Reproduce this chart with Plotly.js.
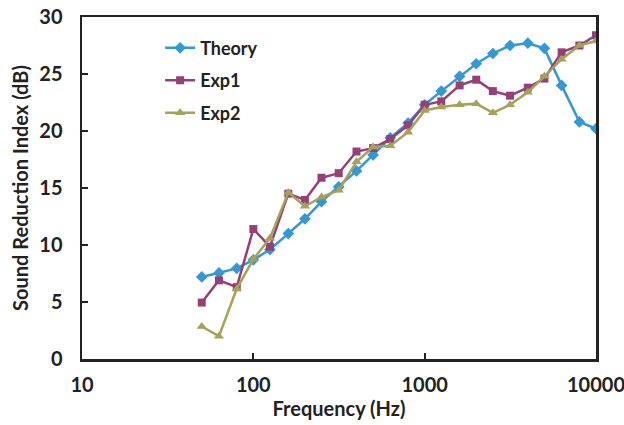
<!DOCTYPE html>
<html>
<head>
<meta charset="utf-8">
<script src="https://cdn.plot.ly/plotly-3.0.1.min.js"></script>
<style>html,body{margin:0;padding:0;background:#fff}#chart{width:624px;height:425px}</style>
</head>
<body>
<div id="chart"></div>
<script>
const frequency = [50, 63, 80, 100, 125, 160, 200, 250, 315, 400, 500, 630, 800, 1000, 1250, 1600, 2000, 2500, 3150, 4000, 5000, 6300, 8000, 10000];
const theory = [7.2, 7.55, 7.95, 8.7, 9.6, 11.0, 12.3, 13.8, 15.1, 16.5, 17.9, 19.4, 20.7, 22.3, 23.5, 24.8, 25.9, 26.8, 27.5, 27.7, 27.25, 24.0, 20.8, 20.2];
const exp1 = [4.95, 6.9, 6.3, 11.4, 9.85, 14.5, 13.95, 15.9, 16.3, 18.2, 18.5, 19.3, 20.5, 22.3, 22.6, 24.0, 24.5, 23.5, 23.1, 23.8, 24.6, 26.9, 27.5, 28.4];
const exp2 = [2.85, 2.0, 6.15, 8.75, 10.6, 14.6, 13.4, 14.2, 14.8, 17.3, 18.6, 18.7, 19.9, 21.8, 22.1, 22.3, 22.4, 21.6, 22.3, 23.4, 24.8, 26.3, 27.5, 27.9];
const xTickVals = [10, 100, 1000, 10000];
const xTickText = ["10", "100", "1000", "10000"];
const yTickVals = [0, 5, 10, 15, 20, 25, 30];

const FONT = "Lato, 'Open Sans', sans-serif";
const traces = [
  {x: frequency, y: theory, name: "Theory", legendgroup: "a", mode: "lines+markers",
   line: {color: "#3398D6", width: 2.5}, marker: {symbol: "diamond", size: 9, color: "#3398D6"}},
  {x: frequency, y: exp1, name: "Exp1", legendgroup: "b", mode: "lines+markers",
   line: {color: "#944177", width: 2.5}, marker: {symbol: "square", size: 8, color: "#944177"}},
  {x: frequency, y: exp2, name: "Exp2", legendgroup: "c", mode: "lines+markers",
   line: {color: "#A5A25A", width: 2.5}, marker: {symbol: "triangle-up", size: 9, color: "#A5A25A"}}
];
const layout = {
  width: 624, height: 425,
  margin: {l: 82, r: 28, t: 17, b: 66},
  paper_bgcolor: "#fff", plot_bgcolor: "#fff",
  font: {family: FONT, color: "#222", size: 17},
  showlegend: true,
  legend: {x: 0.152, y: 0.963, xanchor: "left", yanchor: "top", traceorder: "grouped",
           tracegroupgap: 6, font: {family: FONT, size: 18, color: "#222", weight: "bold"},
           bgcolor: "rgba(0,0,0,0)"},
  xaxis: {type: "log", range: [1, 4], tickvals: xTickVals, ticktext: xTickText,
          showgrid: false, zeroline: false, showline: true, linecolor: "#222", linewidth: 2.5,
          mirror: true, ticks: "inside", ticklen: 6, tickwidth: 2, tickcolor: "#222",
          ticklabelstandoff: 6, ticklabeloverflow: "allow",
          tickfont: {family: FONT, size: 20, color: "#222", weight: "bold"},
          title: {text: "Frequency (Hz)", font: {family: FONT, size: 20, color: "#222", weight: "bold"}, standoff: 4}},
  yaxis: {range: [0, 30], tickvals: yTickVals, showgrid: false, zeroline: false,
          showline: true, linecolor: "#222", linewidth: 2.5, mirror: true,
          ticks: "inside", ticklen: 6, tickwidth: 2, tickcolor: "#222",
          ticklabelstandoff: 13, ticklabeloverflow: "allow",
          tickfont: {family: FONT, size: 20, color: "#222", weight: "bold"},
          title: {text: "Sound Reduction Index (dB)", font: {family: FONT, size: 20, color: "#222", weight: "bold"}, standoff: 6}}
};
Plotly.newPlot("chart", traces, layout, {displayModeBar: false, staticPlot: true});
</script>
</body>
</html>
